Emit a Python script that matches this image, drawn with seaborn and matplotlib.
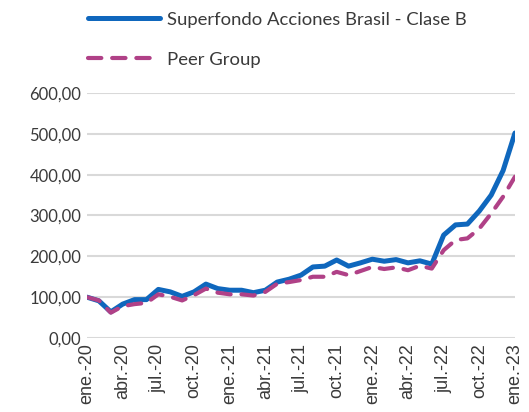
import matplotlib
matplotlib.use('Agg')
import matplotlib.pyplot as plt
import seaborn as sns
import pandas as pd

months = ['ene.', 'feb.', 'mar.', 'abr.', 'may.', 'jun.', 'jul.', 'ago.', 'sep.', 'oct.', 'nov.', 'dic.']
dates = [f'{months[i % 12]}-{20 + i // 12}' for i in range(37)]

fondo = [100, 91, 64, 83, 94, 94, 119, 113, 102, 113, 132, 121, 117, 117, 111, 117,
         137, 144, 154, 174, 176, 191, 176, 184, 193, 188, 192, 184, 189, 181,
         252, 277, 279, 311, 350, 410, 502]
peer = [100, 92, 62, 78, 83, 86, 107, 101, 92, 105, 121, 111, 107, 107, 104, 113,
        133, 137, 142, 150, 150, 162, 154, 164, 174, 169, 173, 166, 177, 170,
        215, 240, 244, 268, 305, 346, 395]

sns.set_style('white')
plt.rcParams['font.family'] = ['Lato', 'DejaVu Sans']

df = pd.DataFrame({'pos': range(len(dates)), 'fondo': fondo, 'peer': peer})

fig = plt.figure(figsize=(5.29, 4.12), dpi=100)
ax = fig.add_axes([0.1645, 0.1796, 0.809, 0.5947])

sns.lineplot(data=df, x='pos', y='fondo', ax=ax, color='#0F67BD', linewidth=3.6,
             label='Superfondo Acciones Brasil - Clase B', solid_capstyle='round')
sns.lineplot(data=df, x='pos', y='peer', ax=ax, color='#B04187', linewidth=3.0,
             label='Peer Group', dashes=(3.2, 2.6), dash_capstyle='round')

ax.set_xlim(0, 36)
ax.set_ylim(0, 600)
ax.set_yticks(range(0, 601, 100))
ax.set_yticklabels([f'{v},00' for v in range(0, 601, 100)], fontsize=12, color='#3A3A3A')
ax.set_xticks(range(0, 37, 3))
ax.set_xticklabels(dates[::3], rotation=90, fontsize=13, color='#3A3A3A',
                   family=['Liberation Sans', 'DejaVu Sans'])
ax.tick_params(axis='both', length=0, pad=4)
ax.set_xlabel('')
ax.set_ylabel('')
ax.grid(axis='y', color='#D9D9D9', linewidth=1.5)
ax.set_axisbelow(True)
sns.despine(ax=ax, left=True, bottom=True)

handles, labels = ax.get_legend_handles_labels()
ax.legend_.remove()
fig.legend(handles, labels, loc='upper left', bbox_to_anchor=(0.135, 1.012),
           frameon=False, fontsize=13.3, handlelength=3.9, labelspacing=1.3,
           handletextpad=0.35, labelcolor='#3A3A3A')

fig.savefig('out.png', dpi=100)
